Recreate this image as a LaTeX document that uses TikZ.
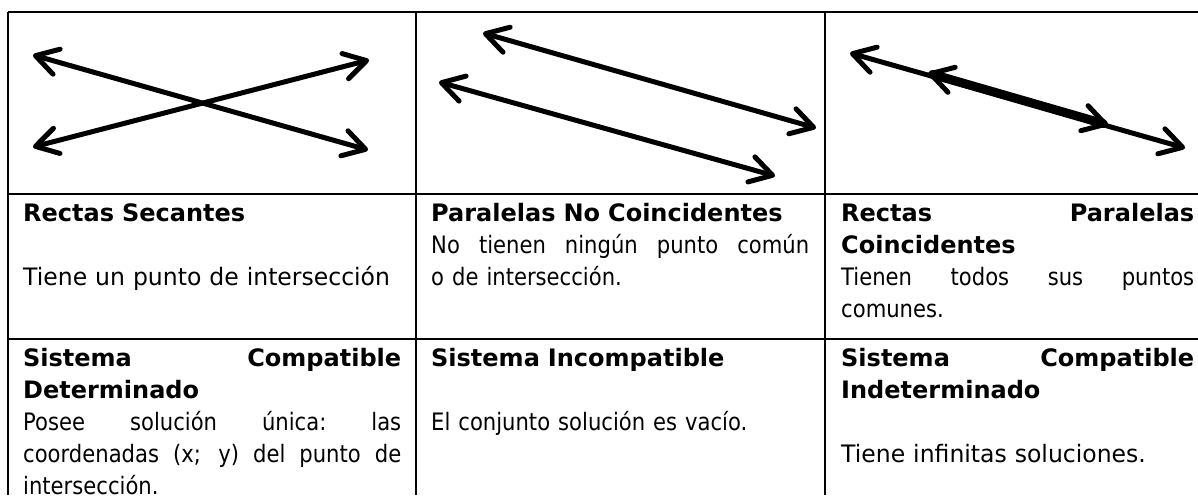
\documentclass[tikz,border=0pt]{standalone}
\usepackage{fontspec}
\setmainfont{DejaVu Sans}[FakeStretch=0.88,BoldFeatures={FakeStretch=1.0}]
\newfontfamily\widefont{DejaVu Sans}[FakeStretch=0.98]
\usetikzlibrary{arrows.meta}
\newcommand{\fillline}[1]{\makebox[\hsize][s]{\spaceskip=.3em plus 1fil\xspaceskip=\spaceskip\relax #1}}

\begin{document}
\begin{tikzpicture}[
x=1pt,
y=-1pt,
grid/.style={
    line width=2pt,
},
cell/.style={
    anchor=base west,
    inner sep=0pt,
    text width=378pt,
    align=left,
    font=\fontsize{24pt}{32pt}\selectfont
},
dline/.style={
    line width=5pt,
    line cap=round,
    <->
},
>={Straight Barb[length=22pt,width=26pt,line cap=round,line join=round]}
]
\useasboundingbox (0,0) rectangle (1198,495);

% table
\foreach \y in {12,194,339}
\draw[grid] (8,\y) -- (1198,\y);
\foreach \x in {8,416,825}
\draw[grid] (\x,12) -- (\x,495);

% row 1: the lines
\coordinate (sa1) at (33,55);
\coordinate (sa2) at (368,150);
\coordinate (sb1) at (33,147);
\coordinate (sb2) at (369,60);
\draw[dline] (sa1) -- (sa2);
\draw[dline] (sb1) -- (sb2);

\coordinate (pa1) at (483,33);
\coordinate (pa2) at (816,128);
\coordinate (pb1) at (439,82);
\coordinate (pb2) at (775,176);
\draw[dline] (pa1) -- (pa2);
\draw[dline] (pb1) -- (pb2);

\coordinate (ca1) at (850,53);
\coordinate (ca2) at (1185,148);
\coordinate (cb1) at (928,73);
\coordinate (cb2) at (1108,125);
\draw[dline] (ca1) -- (ca2);
\draw[dline, line width=9pt, >={Straight Barb[length=22pt,width=26pt,line width=5pt,line cap=round,line join=round]}] (cb1) -- (cb2);

% row 2
\node[cell] (secantes) at (23,221)
    {\textbf{Rectas Secantes}\\ ~\\ \mbox{\widefont Tiene un punto de intersección}};
\node[cell] (paralelas) at (431,221)
    {\textbf{Paralelas No Coincidentes}\\ \fillline{No tienen ningún punto común}\\ o de intersección.};
\node[cell, text width=353pt] (coincidentes) at (841,221)
    {\fillline{\textbf{Rectas Paralelas}}\\ \textbf{Coincidentes}\\ \fillline{Tienen todos sus puntos}\\ comunes.};

% row 3
\node[cell] (determinado) at (23,366)
    {\fillline{\textbf{Sistema Compatible}}\\ \textbf{Determinado}\\ \fillline{Posee solución única: las}\\ \fillline{coordenadas (x; y) del punto de}\\ intersección.};
\node[cell] (incompatible) at (431,366)
    {\textbf{Sistema Incompatible}\\ ~\\ El conjunto solución es vacío.};
\node[cell, text width=353pt] (indeterminado) at (841,366)
    {\fillline{\textbf{Sistema Compatible}}\\ \textbf{Indeterminado}\\ ~\\ \mbox{\widefont Tiene infinitas soluciones.}};
\end{tikzpicture}
\end{document}
